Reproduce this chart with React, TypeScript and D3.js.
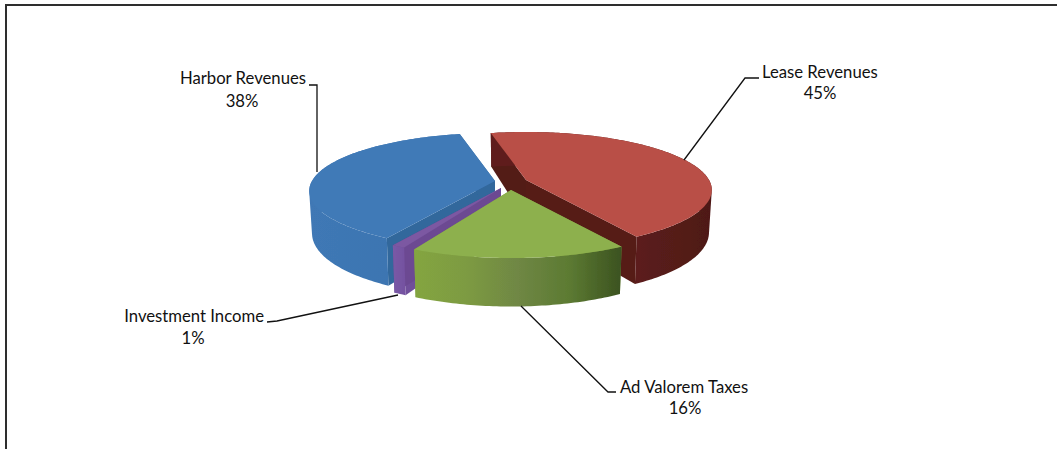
import React from "react";
import * as d3 from "d3";

const categories = ["Lease Revenues", "Ad Valorem Taxes", "Investment Income", "Harbor Revenues"];
const shares = [45, 16, 1, 38];

const WIDTH = 1057, HEIGHT = 449;
const RX = 183, RY = 56.3, PERSP = 0.1724;
const START = (-13 * Math.PI) / 180;
const FONT = "Lato, Carlito, 'Open Sans', sans-serif";

// layout per slice, in slice order
const apexes: [number, number][] = [[526, 180], [511, 190], [501, 188], [495, 181]];
const topFill = ["#b94f47", "#8db04d", "#7b58a2", "#417ab7"];
const wallEnd = ["#561c19", "#7d9c40", "#6c4a92", "#30679c"];
const wallStart = ["#521b18", "#7d9c40", "#70509a", "#30679c"];
const drawOrder = [3, 0, 2, 1];

type Leader = { pts: [number, number][]; name: [number, number, string]; pct: [number, number] };
const leaders: Leader[] = [
  { pts: [[759, 78], [745, 78], [684, 160]], name: [762, 78, "start"], pct: [820, 99] },
  { pts: [[616, 392], [608, 392], [521, 306]], name: [620, 393, "start"], pct: [685, 414] },
  { pts: [[267, 322], [277, 321], [398, 295]], name: [264, 322, "end"], pct: [193, 344] },
  { pts: [[309, 85], [317, 85], [317, 172]], name: [306, 84, "end"], pct: [242, 107] },
];

const slices = d3.pie<number>().sort(null).startAngle(START).endAngle(START + 2 * Math.PI)(shares);

const depth = (v: number) => 41 + 7.5 * v;
const project = (a: number) => {
  const u = Math.sin(a), v = -Math.cos(a);
  const s = 1 / (1 - PERSP * v);
  return { x: RX * u * s, y: RY * v * s, d: depth(v) };
};
const top = (i: number, a: number): [number, number] => {
  const p = project(a);
  return [apexes[i][0] + p.x, apexes[i][1] + p.y];
};
const bottom = (i: number, a: number): [number, number] => {
  const p = project(a);
  return [apexes[i][0] + p.x * 0.985, apexes[i][1] + p.y + p.d];
};
const line = d3.line<[number, number]>();
const arcAngles = (a0: number, a1: number) => {
  const n = Math.max(2, Math.ceil(((a1 - a0) * 180) / Math.PI));
  return d3.range(n + 1).map((k) => a0 + ((a1 - a0) * k) / n);
};
// The outer wall is the sweep of the rim. Each quad is wound the same way, so that
// the quads of the near and far arcs add up instead of cancelling under nonzero fill.
const sweptWall = (i: number, arc: number[]) =>
  d3.pairs(arc)
    .map(([a, b]) => {
      const quad = [top(i, a), top(i, b), bottom(i, b), bottom(i, a)];
      if (d3.polygonArea(quad) < 0) quad.reverse();
      return line(quad)! + "Z";
    })
    .join("");

export default function App() {
  return (
    <svg width={WIDTH} height={HEIGHT} style={{ position: "absolute", left: 0, top: 0, display: "block", background: "#fff" }}>
      <defs>
        <filter id="soft" x="-5%" y="-5%" width="110%" height="110%">
          <feGaussianBlur stdDeviation="0.45" />
        </filter>
        <linearGradient id="wall0" x1="0" x2="1" y1="0" y2="0">
          <stop offset="0" stopColor="#5f1f1c" />
          <stop offset="0.6" stopColor="#5e1f1c" />
          <stop offset="1" stopColor="#4e1917" />
        </linearGradient>
        <linearGradient id="wall1" x1="0" x2="1" y1="0" y2="0">
          <stop offset="0" stopColor="#84a541" />
          <stop offset="0.25" stopColor="#7d9b42" />
          <stop offset="0.5" stopColor="#6f8744" />
          <stop offset="0.75" stopColor="#5c7a32" />
          <stop offset="1" stopColor="#3b5220" />
        </linearGradient>
        <linearGradient id="wall2" x1="0" x2="1" y1="0" y2="0">
          <stop offset="0" stopColor="#7a5aa6" />
          <stop offset="1" stopColor="#7451a0" />
        </linearGradient>
        <linearGradient id="wall3" x1="0" x2="1" y1="0" y2="0">
          <stop offset="0" stopColor="#3f78b5" />
          <stop offset="0.6" stopColor="#3c75b1" />
          <stop offset="1" stopColor="#3a70ab" />
        </linearGradient>
      </defs>

      {/* frame */}
      <path d={`M${WIDTH},5 H6 V${HEIGHT}`} fill="none" stroke="#2e2e2e" strokeWidth={2} />

      <g filter="url(#soft)">
        {drawOrder.map((i) => {
          const s = slices[i];
          const a0 = s.startAngle, a1 = s.endAngle;
          const apexTop = apexes[i];
          const apexBottom: [number, number] = [apexes[i][0], apexes[i][1] + depth(0)];
          const arc = arcAngles(a0, a1);
          const topArc = arc.map((a) => top(i, a));
          return (
            <g key={categories[i]}>
              <path d={line([apexTop, top(i, a0), bottom(i, a0), apexBottom])! + "Z"} fill={wallStart[i]} />
              <path d={line([apexTop, top(i, a1), bottom(i, a1), apexBottom])! + "Z"} fill={wallEnd[i]} />
              <path d={sweptWall(i, arc)} fill={`url(#wall${i})`} />
              <path d={line([apexTop, ...topArc])! + "Z"} fill={topFill[i]} />
            </g>
          );
        })}
      </g>

      {leaders.map((l, i) => (
        <g key={categories[i]}>
          <path d={line(l.pts)!} fill="none" stroke="#111" strokeWidth={1.3} />
          <text x={l.name[0]} y={l.name[1]} textAnchor={l.name[2] as "start" | "end"} fontFamily={FONT} fontSize={16.7} fill="#111">
            {categories[i]}
          </text>
          <text x={l.pct[0]} y={l.pct[1]} textAnchor="middle" fontFamily={FONT} fontSize={16.7} fill="#111">
            {shares[i]}%
          </text>
        </g>
      ))}
    </svg>
  );
}
